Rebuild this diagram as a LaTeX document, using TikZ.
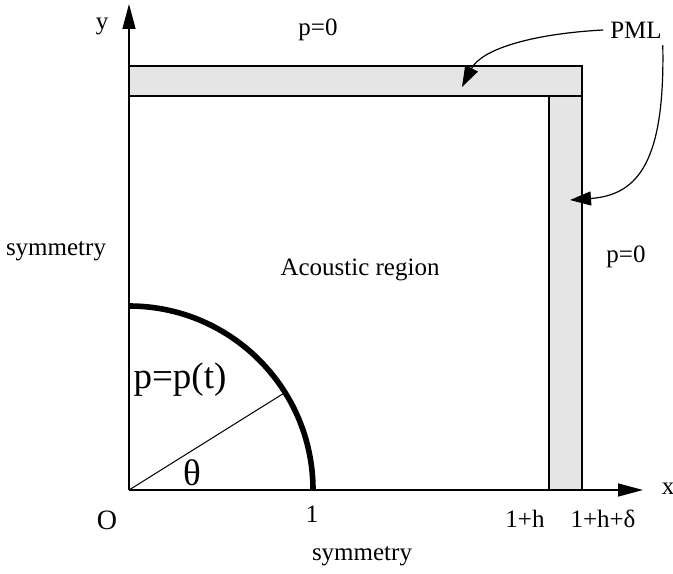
\documentclass[tikz,border=0pt]{standalone}
\usepackage{fontspec}
\setmainfont{Liberation Serif}
\usetikzlibrary{arrows.meta,positioning}
\tikzset{axis/.style={line width=0.75pt, -{Triangle[length=12.5pt, width=6.5pt]}},
  layer/.style={draw, line width=0.65pt, fill=gray!20},
  pin/.style={line width=0.6pt, -{Triangle[length=10.5pt, width=7pt]}},
  big/.style={font=\fontsize{18.5}{22}\selectfont}}

\begin{document}
\begin{tikzpicture}[x=0.5pt, y=0.5pt, font=\fontsize{12.5}{15}\selectfont]
  \useasboundingbox (-129,-83) rectangle (544,490);
  \coordinate (O) at (0,0);
  \coordinate (one) at (184,0);
  % PML layers
  \draw[layer] (0,394) rectangle (453,424);
  \draw[layer] (420,0) rectangle (453,394);
  % axes
  \draw[axis] (O) -- (514,0) coordinate (xend);
  \draw[axis] (O) -- (0,486) coordinate (yend);
  \node (xlab) at (539,1) {x};
  \node (ylab) at (-27,464) {y};
  % scatterer boundary
  \draw[line width=2.8pt] (one) arc[start angle=0, end angle=90, radius=92pt];
  \draw[line width=0.5pt] (O) -- (32:184) coordinate (rim);
  \node[big] (theta) at (63,17) {θ};
  \node[big] (bc) at (51,110) {p=p(t)};
  % labels
  \node (orig) at (-22,-30) {\fontsize{14}{16}\selectfont O};
  \node (lone) at (183,-24) {1};
  \node (lh) at (396,-29) {1+h};
  \node (lhd) at (474,-29) {1+h+δ};
  \node (symb) at (233,-66) {symmetry};
  \node (syml) at (-73,239) {symmetry};
  \node (region) at (231,220) {Acoustic region};
  \node (ptop) at (189,460) {p=0};
  \node (pright) at (497,233) {p=0};
  \node (pml) at (507,460) {PML};
  \coordinate (toptip) at (333,403);
  \coordinate (sidetip) at (441,290);
  \draw[pin] (pml.west) .. controls (400,456) and (352,440) .. (toptip);
  \draw[pin] ([xshift=-3pt]pml.south east) .. controls (536,330) and (510,295) .. (sidetip);
\end{tikzpicture}
\end{document}
